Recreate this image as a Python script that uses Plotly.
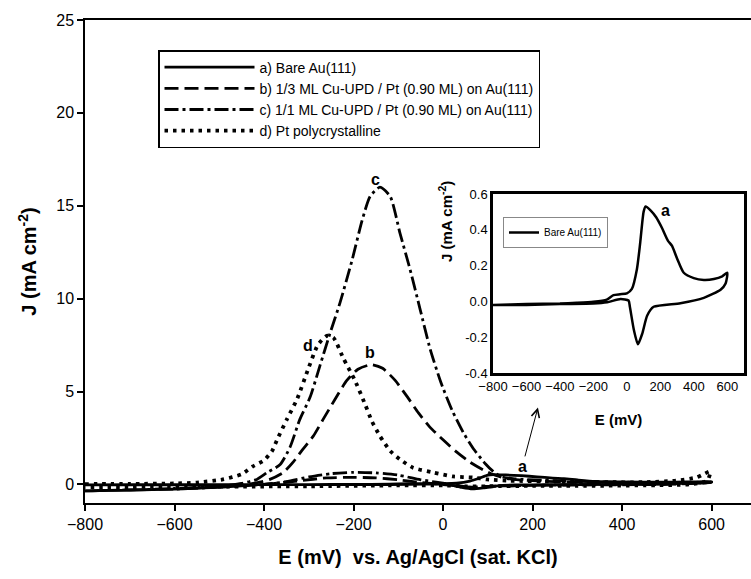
import plotly.graph_objects as go

# ---- data (E in mV, J in mA cm^-2) ----
# a) Bare Au(111): forward then reverse scan
a_E = [-800, -600, -400, -300, -200, -120, -80, -40, 0, 30, 60, 80, 100, 112, 140, 175, 210, 245, 270, 300, 340, 400, 460, 520, 570, 600,
       590, 560, 460, 320, 160, 121, 92, 66, 42, 18, 10, -38, -118, -200, -400, -600, -800]
a_J = [-0.02, -0.015, -0.012, -0.008, -0.002, 0.01, 0.035, 0.04, 0.045, 0.07, 0.18, 0.33, 0.5, 0.53, 0.51, 0.47, 0.41, 0.34, 0.31, 0.24, 0.16, 0.13, 0.12, 0.125, 0.14, 0.16,
       0.1, 0.065, 0.02, -0.01, -0.03, -0.08, -0.18, -0.24, -0.16, -0.03, 0.005, 0.013, -0.005, -0.012, -0.015, -0.02, -0.02]

# b) 1/3 ML Cu-UPD / Pt (0.90 ML) on Au(111)
b_E = [-800, -700, -600, -500, -450, -410, -387, -357, -335, -313, -290, -268, -241, -215, -190, -160, -135, -107, -81, -55, -30, 0, 30, 60, 90, 110, 140, 170, 250, 350, 450, 550, 600,
       500, 400, 300, 200, 100, 60, 20, -50, -100, -150, -200, -260, -320, -400, -500, -600, -700, -800]
b_J = [-0.35, -0.3, -0.25, -0.15, -0.05, 0.12, 0.27, 0.64, 1.2, 1.9, 2.6, 3.5, 4.6, 5.6, 6.2, 6.45, 6.25, 5.6, 4.75, 3.85, 3.1, 2.4, 1.75, 1.2, 0.78, 0.55, 0.33, 0.24, 0.15, 0.1, 0.08, 0.08, 0.1,
       0.0, -0.02, -0.03, -0.05, -0.1, -0.15, -0.05, 0.1, 0.25, 0.35, 0.38, 0.35, 0.2, 0.0, -0.15, -0.25, -0.3, -0.35]

# c) 1/1 ML Cu-UPD / Pt (0.90 ML) on Au(111)
c_E = [-800, -700, -600, -500, -450, -416, -393, -364, -342, -320, -297, -275, -253, -230, -203, -181, -163, -141, -118, -96, -74, -51, -29, -5, 20, 45, 70, 95, 112, 130, 160, 250, 400, 500, 600,
       500, 400, 300, 200, 100, 60, 20, -50, -100, -150, -200, -250, -300, -350, -400, -500, -600, -700, -800]
c_J = [-0.35, -0.3, -0.22, -0.1, 0.05, 0.27, 0.64, 1.07, 2.0, 3.5, 4.7, 6.4, 8.1, 9.8, 12.1, 14.2, 15.5, 16.0, 15.5, 13.5, 11.6, 9.4, 7.3, 5.5, 4.0, 2.8, 1.85, 1.1, 0.7, 0.42, 0.3, 0.2, 0.12, 0.1, 0.12,
       0.02, 0.0, -0.02, -0.05, -0.1, -0.15, 0.0, 0.25, 0.5, 0.62, 0.65, 0.58, 0.4, 0.15, 0.0, -0.15, -0.25, -0.3, -0.35]

# d) Pt polycrystalline
d_E = [-800, -700, -600, -550, -492, -450, -425, -400, -382, -371, -349, -326, -300, -280, -260, -245, -223, -197, -174, -159, -141, -118, -96, -67, -22, 22, 67, 98, 150, 250, 350, 450, 520, 567, 581, 597,
       590, 550, 450, 300, 200, 100, 50, 0, -100, -300, -500, -800]
d_J = [0.02, 0.03, 0.05, 0.1, 0.27, 0.55, 0.97, 1.3, 1.8, 2.4, 3.5, 4.6, 6.3, 7.5, 8.0, 7.9, 6.8, 5.6, 4.3, 3.4, 2.6, 1.8, 1.34, 0.9, 0.64, 0.43, 0.37, 0.27, 0.2, 0.15, 0.12, 0.12, 0.2, 0.38, 0.54, 0.7,
       0.2, 0.0, -0.05, -0.08, -0.08, -0.1, -0.1, -0.05, -0.05, -0.1, -0.12, -0.15]

x_ticks = [-800, -600, -400, -200, 0, 200, 400, 600]
y_ticks = [0, 5, 10, 15, 20, 25]
inset_y_ticks = [-0.4, -0.2, 0.0, 0.2, 0.4, 0.6]
inset_y_labels = ["-0.4", "-0.2", "0.0", "0.2", "0.4", "0.6"]

names = ["a) Bare Au(111)",
         "b) 1/3 ML Cu-UPD / Pt (0.90 ML) on Au(111)",
         "c) 1/1 ML Cu-UPD / Pt (0.90 ML) on Au(111)",
         "d) Pt polycrystalline"]

FONT = "Arial, Liberation Sans, sans-serif"

fig = go.Figure()
styles = [("solid", 2.8), ("14px,6px", 2.8), ("14px,4px,3px,4px", 2.8), ("3.5px,5px", 3.8)]
for (E, J), nm, (dash, w) in zip([(a_E, a_J), (b_E, b_J), (c_E, c_J), (d_E, d_J)], names, styles):
    fig.add_trace(go.Scatter(x=E, y=J, mode="lines", name=nm,
                             line=dict(color="black", width=w, dash=dash, shape="spline", smoothing=0.6),
                             legend="legend"))

# inset
fig.add_trace(go.Scatter(x=a_E, y=a_J, mode="lines", name="Bare Au(111)",
                         line=dict(color="black", width=2.5, shape="spline", smoothing=0.6),
                         xaxis="x2", yaxis="y2", legend="legend2"))

W, H = 751, 579
L, R, T, B = 85, 0, 20, 76
pw, ph = W - L - R, H - T - B

def px(x):
    return (x - L) / pw

def py(y):
    return (H - B - y) / ph

fig.update_layout(
    width=W, height=H,
    margin=dict(l=L, r=R, t=T, b=B),
    paper_bgcolor="white", plot_bgcolor="white",
    font=dict(family=FONT, color="black"),
    showlegend=True,
    xaxis=dict(range=[-800, 688], tickvals=x_ticks, showgrid=False, zeroline=False,
               showline=True, linecolor="black", linewidth=1.5, mirror=True,
               ticks="outside", ticklen=6, tickcolor="black", tickwidth=1.5,
               tickfont=dict(size=16),
               title=dict(text="<b>E (mV)  vs. Ag/AgCl (sat. KCl)</b>", font=dict(size=20), standoff=18)),
    yaxis=dict(range=[-1, 25], tickvals=y_ticks, showgrid=False, zeroline=False,
               showline=True, linecolor="black", linewidth=1.5,
               ticks="outside", ticklen=6, tickcolor="black", tickwidth=1.5,
               tickfont=dict(size=16),
               title=dict(text="<b>J (mA cm<sup>-2</sup>)</b>", font=dict(size=20), standoff=14)),
    xaxis2=dict(domain=[px(493), px(744)], anchor="y2", range=[-800, 700], tickvals=x_ticks,
                showgrid=False, zeroline=False, showline=True, linecolor="black", linewidth=2.5, mirror=True,
                ticks="", tickfont=dict(size=13),
                title=dict(text="<b>E (mV)</b>", font=dict(size=15), standoff=22)),
    yaxis2=dict(domain=[py(373), py(194)], anchor="x2", range=[-0.4, 0.6], tickvals=inset_y_ticks,
                ticktext=inset_y_labels, showgrid=False, zeroline=False, showline=True,
                linecolor="black", linewidth=2.5, mirror=True, ticks="", tickfont=dict(size=13)),
    legend=dict(x=px(158), y=py(50), xanchor="left", yanchor="top",
                bordercolor="black", borderwidth=1.5, bgcolor="white",
                font=dict(size=14, family=FONT), itemwidth=90, tracegroupgap=0),
    legend2=dict(x=px(503), y=py(217), xanchor="left", yanchor="top",
                 bordercolor="#888", borderwidth=1, bgcolor="white",
                 font=dict(size=10, family=FONT), itemwidth=30),
)

lab = dict(showarrow=False, font=dict(size=16, family=FONT), xref="x", yref="y")
fig.add_annotation(x=-150, y=16.4, text="<b>c</b>", **lab)
fig.add_annotation(x=-302, y=7.5, text="<b>d</b>", **lab)
fig.add_annotation(x=-163, y=7.1, text="<b>b</b>", **lab)
fig.add_annotation(x=212, y=4.14, ax=177, ay=0.97, axref="x", ayref="y", xref="x", yref="y",
                   text="<b>a</b>", showarrow=True, arrowhead=5, arrowsize=1.6, arrowwidth=1,
                   arrowcolor="black", font=dict(size=16, family=FONT))
fig.add_annotation(x=230, y=0.51, xref="x2", yref="y2", text="<b>a</b>", showarrow=False,
                   font=dict(size=16, family=FONT))
fig.add_annotation(x=px(445), y=py(222), xref="paper", yref="paper", text="<b>J (mA cm<sup>-2</sup>)</b>",
                   textangle=-90, showarrow=False, font=dict(size=15, family=FONT))

fig.write_html("out.html")
